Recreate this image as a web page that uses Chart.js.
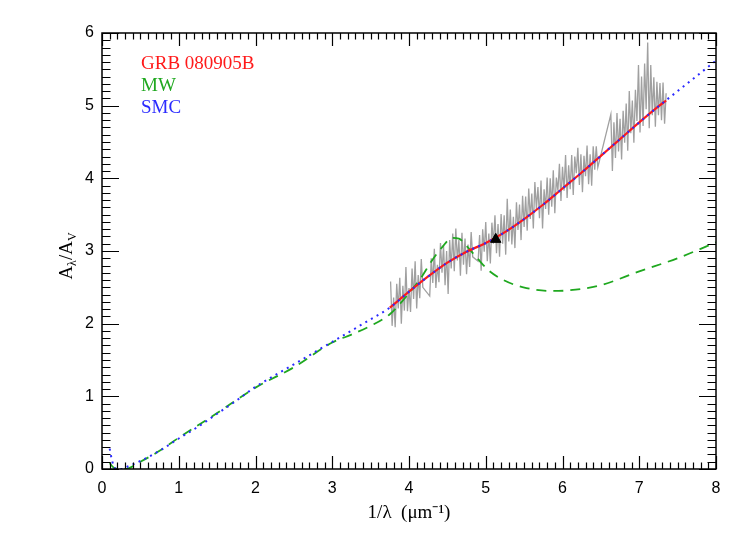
<!DOCTYPE html>
<html>
<head>
<meta charset="utf-8">
<script src="https://cdn.jsdelivr.net/npm/chart.js@4/dist/chart.umd.min.js"></script>
<style>
  html, body { margin: 0; padding: 0; background: #fff; }
  canvas { display: block; }
</style>
</head>
<body>
<canvas id="c" width="747" height="534"></canvas>
<script>
// observed extinction curve of the afterglow (grey, noisy)
const specX = [
  3.76, 3.78, 3.80, 3.82, 3.84, 3.86, 3.88, 3.90, 3.92, 3.94, 3.96, 3.98, 4.00, 4.02, 4.04, 4.06, 4.08, 4.10, 4.12, 4.14, 4.16, 4.18,
  4.27, 4.29, 4.31, 4.33, 4.35, 4.37, 4.39, 4.41, 4.43, 4.45, 4.47, 4.49, 4.51, 4.53, 4.55, 4.57, 4.59, 4.61, 4.63, 4.65, 4.67, 4.69, 4.71, 4.73, 4.75, 4.77, 4.79, 4.81, 4.83,
  4.90, 4.92, 4.94, 4.96, 4.98, 5.00, 5.02, 5.04, 5.06, 5.08, 5.10, 5.12, 5.14, 5.16, 5.18, 5.20, 5.22, 5.24, 5.26, 5.28, 5.30, 5.32, 5.34, 5.36, 5.38, 5.40,
  5.42, 5.44, 5.46, 5.48, 5.50, 5.52, 5.54, 5.56, 5.58, 5.60, 5.62, 5.64, 5.66, 5.68, 5.70, 5.72, 5.74, 5.76, 5.78, 5.80, 5.82, 5.84, 5.86, 5.88, 5.90,
  5.92, 5.94, 5.96, 5.98, 6.00, 6.02, 6.04, 6.06, 6.08, 6.10, 6.12, 6.14, 6.16, 6.18, 6.20, 6.22, 6.24, 6.26, 6.28, 6.30, 6.32, 6.34, 6.36, 6.38, 6.40,
  6.42, 6.44, 6.46,
  6.63, 6.65, 6.67, 6.69, 6.71, 6.73, 6.75, 6.77, 6.79, 6.81, 6.83, 6.85, 6.87, 6.89, 6.91, 6.93, 6.95, 6.97, 6.99, 7.01, 7.03, 7.05, 7.07, 7.09, 7.11,
  7.13, 7.15, 7.17, 7.19, 7.21, 7.23, 7.25, 7.27, 7.29, 7.31, 7.33, 7.35
]
const specY = [
  2.58, 1.97, 2.36, 1.95, 2.55, 2.21, 2.63, 2.00, 2.52, 2.18, 2.78, 2.17, 2.49, 2.16, 2.76, 2.34, 2.86, 2.21, 2.67, 2.35, 2.89, 2.50,
  2.38, 2.90, 2.56, 3.03, 2.49, 2.81, 2.57, 3.11, 2.70, 3.07, 2.53, 3.00, 2.41, 3.15, 2.76, 3.24, 2.72, 3.31, 2.87, 3.15, 2.66, 3.25, 2.81, 3.17, 2.68, 3.09, 2.78, 3.26, 2.92,
  2.86, 3.22, 2.73, 3.30, 2.99, 3.40, 2.86, 3.24, 2.83, 3.39, 3.10, 3.49, 2.97, 3.37, 2.92, 3.51, 3.10, 3.49, 2.95, 3.72, 3.13, 3.57, 3.09, 3.47, 3.04, 3.67,
  3.29, 3.64, 3.15, 3.76, 3.33, 3.75, 3.28, 3.86, 3.44, 3.79, 3.31, 3.95, 3.58, 3.88, 3.45, 3.97, 3.31, 3.85, 3.58, 4.01, 3.50, 4.00, 3.61, 4.11, 3.52,
  4.01, 3.83, 4.20, 3.69, 4.16, 3.83, 4.32, 3.73, 4.18, 3.85, 4.32, 3.77, 4.30, 4.07, 4.42, 3.91, 4.33, 3.81, 4.31, 4.03, 4.45, 3.92, 4.33, 3.90, 4.44,
  4.12, 4.44, 4.15,
  4.88, 4.10, 4.77, 4.28, 4.90, 4.37, 4.82, 4.26, 4.93, 4.49, 5.03, 4.38, 5.20, 4.62, 5.07, 4.49, 5.22, 4.79, 5.56, 4.63, 5.40, 4.72, 5.58, 4.95, 5.87,
  4.69, 5.56, 4.87, 5.39, 4.71, 5.33, 4.87, 5.31, 4.80, 5.32, 4.75, 5.17
]

// fitted curve for GRB 080905B (red)
const fitX = [3.75, 4.0, 4.25, 4.5, 4.75, 5.0, 5.25, 5.5, 5.75, 6.0, 6.25, 6.5, 6.75, 7.0, 7.25, 7.35]
const fitY = [2.22, 2.44, 2.65, 2.84, 2.99, 3.11, 3.26, 3.44, 3.64, 3.86, 4.08, 4.31, 4.54, 4.77, 4.99, 5.07]

// Milky Way curve (green dashed)
const mwX = [0.10, 0.15, 0.20, 0.30, 0.50, 0.75, 1.0, 1.5, 2.0, 2.5, 3.0, 3.25, 3.5, 3.75, 4.0, 4.15, 4.3, 4.43, 4.56, 4.65, 4.75, 4.89, 5.03, 5.23, 5.49, 5.84, 6.1, 6.5, 7.0, 7.5, 7.8, 8.0]
const mwY = [0.08, 0.02, 0.00, 0.00, 0.10, 0.25, 0.43, 0.77, 1.12, 1.40, 1.74, 1.85, 1.97, 2.13, 2.42, 2.62, 2.87, 3.05, 3.18, 3.17, 3.07, 2.90, 2.74, 2.60, 2.50, 2.45, 2.46, 2.53, 2.72, 2.90, 3.03, 3.12]

// SMC curve (blue dotted)
const smcX = [0.10, 0.13, 0.17, 0.25, 0.35, 0.5, 0.75, 1.0, 1.25, 1.5, 1.75, 2.0, 2.5, 3.0, 3.5, 3.75, 4.0, 4.25, 4.5, 4.75, 5.0, 5.25, 5.5, 5.75, 6.0, 6.25, 6.5, 6.75, 7.0, 7.25, 7.5, 7.75, 8.0]
const smcY = [0.28, 0.12, 0.01, 0.00, 0.04, 0.11, 0.25, 0.42, 0.58, 0.76, 0.94, 1.13, 1.44, 1.75, 2.06, 2.22, 2.44, 2.65, 2.84, 2.99, 3.11, 3.26, 3.44, 3.64, 3.86, 4.08, 4.31, 4.54, 4.77, 4.99, 5.20, 5.41, 5.62]

// photometric point (black triangle)
const photX = [5.13]
const photY = [3.16]

const xTicks = [0, 1, 2, 3, 4, 5, 6, 7, 8]
const yTicks = [0, 1, 2, 3, 4, 5, 6]

const RED = '#ff1a1a'
const GREEN = '#1fa81f'
const BLUE = '#2b2bff'

const pts = (xs, ys) => xs.map((x, i) => ({ x: x, y: ys[i] }))

// frame with inward ticks on all four sides, legend text and axis titles
const decorations = {
  id: 'decorations',
  afterDraw(chart) {
    const { ctx, chartArea: a, scales } = chart
    const x = scales.x, y = scales.y
    ctx.save()
    ctx.strokeStyle = '#000'
    ctx.lineWidth = 1.5
    ctx.strokeRect(a.left, a.top, a.right - a.left, a.bottom - a.top)

    ctx.beginPath()
    for (let i = 0; i <= 80; i++) {
      const px = Math.round(x.getPixelForValue(i / 10)) + 0.5
      const len = i % 10 ? 6.5 : 13
      ctx.moveTo(px, a.bottom); ctx.lineTo(px, a.bottom - len)
      ctx.moveTo(px, a.top); ctx.lineTo(px, a.top + len)
    }
    for (let i = 0; i <= 60; i++) {
      const py = Math.round(y.getPixelForValue(i / 10)) + 0.5
      const len = i % 10 ? 8.5 : 17
      ctx.moveTo(a.left, py); ctx.lineTo(a.left + len, py)
      ctx.moveTo(a.right, py); ctx.lineTo(a.right - len, py)
    }
    ctx.lineWidth = 1.2
    ctx.stroke()

    // legend: dataset names in their colours
    ctx.font = '19px "Liberation Serif"'
    ctx.textBaseline = 'alphabetic'
    ctx.textAlign = 'left'
    const named = chart.data.datasets.filter((d) => d.legendRow !== undefined)
    named.forEach((d) => {
      ctx.fillStyle = d.borderColor
      ctx.fillText(d.label, 141, 69 + d.legendRow * 22)
    })

    // x title
    ctx.fillStyle = '#000'
    ctx.font = '19px "Liberation Serif"'
    ctx.textAlign = 'center'
    ctx.fillText('1/\u03bb  (\u03bcm\u207b\u00b9)', (a.left + a.right) / 2, 518)

    // y title, rotated, with subscripts
    ctx.translate(72, 256)
    ctx.rotate(-Math.PI / 2)
    ctx.textAlign = 'left'
    const parts = [['A', 19, 0], ['\u03bb', 12, 4], ['/', 19, 0], ['A', 19, 0], ['V', 12, 4]]
    let w = 0
    parts.forEach(([t, s]) => { ctx.font = s + 'px "Liberation Serif"'; w += ctx.measureText(t).width })
    let cx = -w / 2
    parts.forEach(([t, s, dy]) => {
      ctx.font = s + 'px "Liberation Serif"'
      ctx.fillText(t, cx, dy)
      cx += ctx.measureText(t).width
    })
    ctx.restore()
  },
}

new Chart(document.getElementById('c'), {
  type: 'scatter',
  data: {
    datasets: [
      {
        label: 'photometry',
        data: pts(photX, photY),
        pointStyle: 'triangle',
        pointRadius: 6,
        backgroundColor: '#000',
        borderColor: '#000',
        showLine: false,
      },
      {
        label: 'SMC',
        legendRow: 2,
        data: pts(smcX, smcY),
        showLine: true,
        borderColor: BLUE,
        borderWidth: 2,
        borderDash: [2, 4.5],
        pointRadius: 0,
        cubicInterpolationMode: 'monotone',
      },
      {
        label: 'GRB 080905B',
        legendRow: 0,
        data: pts(fitX, fitY),
        showLine: true,
        borderColor: RED,
        borderWidth: 2.2,
        pointRadius: 0,
        cubicInterpolationMode: 'monotone',
      },
      {
        label: 'MW',
        legendRow: 1,
        data: pts(mwX, mwY),
        showLine: true,
        borderColor: GREEN,
        borderWidth: 1.8,
        borderDash: [10, 7],
        pointRadius: 0,
        cubicInterpolationMode: 'monotone',
      },
      {
        label: 'spectrum',
        data: pts(specX, specY),
        showLine: true,
        borderColor: '#a0a0a0',
        borderWidth: 1.3,
        pointRadius: 0,
        tension: 0,
      },
    ],
  },
  options: {
    responsive: false,
    animation: false,
    devicePixelRatio: 1,
    layout: { padding: { left: 0, top: 33, right: 31, bottom: 0 } },
    plugins: { legend: { display: false }, tooltip: { enabled: false } },
    scales: {
      x: {
        type: 'linear',
        min: 0,
        max: 8,
        afterFit: (s) => { s.height = 65 },
        afterBuildTicks: (s) => { s.ticks = xTicks.map((v) => ({ value: v })) },
        grid: { display: false, drawTicks: false },
        border: { display: false },
        ticks: { color: '#000', font: { family: 'Liberation Sans', size: 16 }, padding: 10 },
      },
      y: {
        type: 'linear',
        min: 0,
        max: 6,
        afterFit: (s) => { s.width = 102 },
        afterBuildTicks: (s) => { s.ticks = yTicks.map((v) => ({ value: v })) },
        grid: { display: false, drawTicks: false },
        border: { display: false },
        ticks: { color: '#000', font: { family: 'Liberation Sans', size: 16 }, padding: 8 },
      },
    },
  },
  plugins: [decorations],
})
</script>
</body>
</html>
